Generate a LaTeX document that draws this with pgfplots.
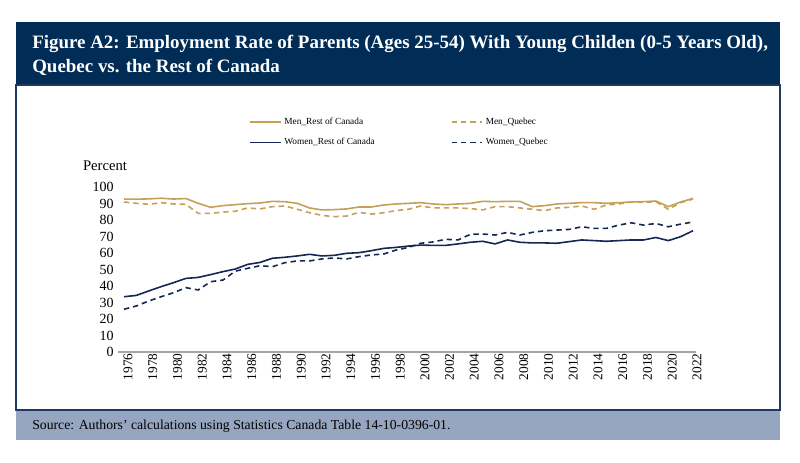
\documentclass[border=0pt]{standalone}
\usepackage{pgfplots}
\pgfplotsset{compat=1.18}
\usepackage{pgfplotstable}
\usepackage{fontspec}
\setmainfont{Liberation Serif}
\definecolor{navy}{RGB}{0,44,86}
\definecolor{framec}{RGB}{31,56,100}
\definecolor{srcband}{RGB}{151,166,192}
\definecolor{gold}{RGB}{197,160,89}
\definecolor{lnavy}{RGB}{20,40,82}
\definecolor{axgray}{RGB}{166,166,166}

\pgfplotstableread{
year menroc menqc womroc womqc
1976 92.7 90.9 33.5 25.9
1977 92.6 90.1 34.3 27.9
1978 92.8 89.5 37.0 30.9
1979 93.2 90.5 39.6 33.5
1980 92.7 89.7 42.0 35.9
1981 93.0 89.5 44.6 39.0
1982 90.1 84.0 45.2 37.6
1983 87.7 84.0 46.9 42.6
1984 88.7 84.8 48.7 43.6
1985 89.3 85.3 50.3 49.0
1986 89.9 87.3 53.1 50.7
1987 90.3 86.7 54.3 52.3
1988 91.3 88.1 56.8 51.7
1989 91.1 88.5 57.4 54.1
1990 90.1 86.5 58.2 55.2
1991 87.3 84.4 59.2 55.2
1992 86.1 82.8 58.2 56.4
1993 86.3 82.0 58.6 57.0
1994 86.7 82.4 59.8 56.4
1995 87.9 84.6 60.2 57.8
1996 87.9 83.6 61.4 58.8
1997 89.1 84.4 62.8 59.4
1998 89.7 85.7 63.4 61.8
1999 90.1 86.5 64.2 63.4
2000 90.5 88.5 64.8 65.9
2001 89.7 87.3 64.6 66.7
2002 89.3 87.3 64.6 68.3
2003 89.7 87.3 65.5 67.9
2004 90.1 86.9 66.5 71.3
2005 91.3 86.1 67.1 71.5
2006 91.1 88.1 65.5 70.9
2007 91.3 88.1 67.9 72.5
2008 91.3 87.3 66.5 70.9
2009 88.1 86.5 66.1 72.5
2010 88.7 85.7 66.1 73.5
2011 89.7 87.3 65.9 73.9
2012 90.1 87.7 66.9 74.3
2013 90.5 88.5 67.9 75.9
2014 90.5 86.5 67.5 74.9
2015 90.1 89.1 67.1 74.9
2016 90.5 89.7 67.5 76.9
2017 90.9 90.9 67.9 78.3
2018 91.1 90.7 67.9 76.9
2019 91.5 91.1 69.4 77.9
2020 88.1 86.5 67.5 75.9
2021 90.9 90.5 69.9 77.5
2022 93.1 92.7 73.5 78.8
}\datatable

\begin{document}
\begin{tikzpicture}[x=0.75pt,y=0.75pt]
\fill[white] (0,0) rectangle (800,463);
\fill[navy] (16,378) rectangle (780,441);
\fill[srcband] (16,23) rectangle (780,53);
\draw[framec, line width=1.3pt] (16,53) rectangle (780,378);
\node[anchor=base west, inner sep=0, text=white, font=\bfseries\fontsize{14.2}{17}\selectfont] at (32,414.7) {Figure A2: Employment Rate of Parents (Ages 25-54) With Young Childen (0-5 Years Old),};
\node[anchor=base west, inner sep=0, text=white, font=\bfseries\fontsize{14.2}{17}\selectfont] at (32,390.3) {Quebec vs. the Rest of Canada};
\node[anchor=base west, inner sep=0, font=\fontsize{10.3}{12}\selectfont] at (32,33) {Source: Authors’ calculations using Statistics Canada Table 14-10-0396-01.};
\node[font=\fontsize{11}{13}\selectfont] at (105,297) {Percent};
\begin{axis}[
  at={(88.5pt,83.25pt)}, anchor=south west,
  scale only axis, width=433.5pt, height=123.75pt,
  xmin=1975.515, xmax=2022.24, ymin=0, ymax=100,
  axis x line*=bottom, axis y line*=left,
  x axis line style={axgray, line width=1.2pt, -},
  y axis line style={draw=none},
  major tick length=0pt,
  xtick={1976,1978,...,2022}, ytick={0,10,...,100},
  /pgf/number format/1000 sep={},
  /pgf/number format/assume math mode=true,
  x tick label style={rotate=90, anchor=east, font=\fontsize{10}{11}\selectfont, inner sep=1pt, yshift=-3pt},
  y tick label style={font=\fontsize{10.5}{12}\selectfont, inner sep=1pt, xshift=-2pt},
  legend columns=2,
  legend cell align=left,
  legend image code/.code={\draw[#1] (0pt,0pt) -- (23pt,0pt);},
  legend style={at={(0.22,1.4545)}, anchor=north west, draw=none, fill=none,
    font=\fontsize{7}{8}\selectfont, row sep=5pt,
    /tikz/every even column/.append style={column sep=55pt}},
]
\addplot[gold, line width=1.2pt] table[x=year,y=menroc]{\datatable};
\addlegendentry{Men\_Rest of Canada}
\addplot[gold, line width=1.2pt, dash pattern=on 4pt off 3pt] table[x=year,y=menqc]{\datatable};
\addlegendentry{Men\_Quebec}
\addplot[lnavy, line width=1.2pt] table[x=year,y=womroc]{\datatable};
\addlegendentry{Women\_Rest of Canada}
\addplot[lnavy, line width=1.2pt, dash pattern=on 4pt off 3pt] table[x=year,y=womqc]{\datatable};
\addlegendentry{Women\_Quebec}
\end{axis}
\end{tikzpicture}
\end{document}
